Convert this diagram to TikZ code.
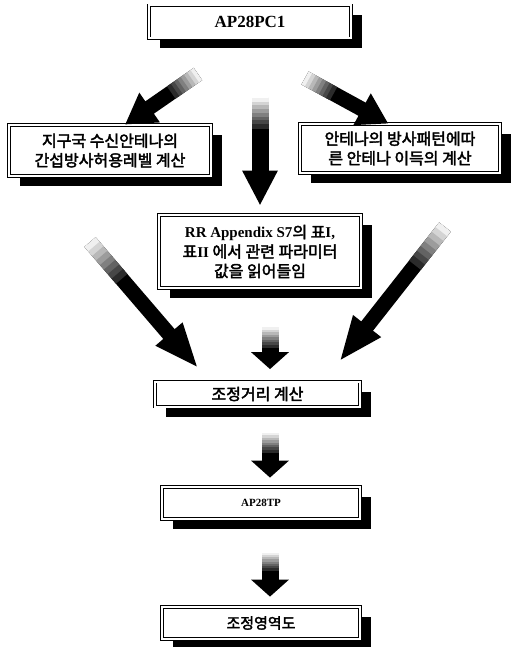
\documentclass[tikz,border=0pt]{standalone}
\usepackage{fontspec}
\setmainfont{Liberation Serif}
\newfontfamily\kr{Noto Sans CJK KR}[AutoFakeBold=2.5]
\usetikzlibrary{arrows.meta, positioning, calc, shadows}

\newcommand{\lt}[1]{{\rmfamily\bfseries #1}}
% gray tail laid over the start of an arrow
\newcommand{\fadetail}[4]{%
  \foreach \k in {0,...,7}{%
    \pgfmathsetmacro{\ka}{#4*\k/8}%
    \pgfmathsetmacro{\kb}{#4*(\k+1)/8+0.6}%
    \pgfmathtruncatemacro{\kc}{6+\k*11}%
    \draw[line width=#3, black!\kc] ($(#1)!\ka pt!(#2)$) -- ($(#1)!\kb pt!(#2)$);
  }}

\begin{document}
\begin{tikzpicture}[
  x=1pt, y=-1pt,
  box/.style={draw, double, double distance=2pt, line width=0.8pt, fill=white, align=center, inner sep=2pt,
    font=\kr\bfseries\fontsize{16}{19.5}\selectfont,
    drop shadow={shadow xshift=11pt, shadow yshift=-10pt, fill=black, opacity=1}},
  bigarr/.style={line width=15pt, -{Triangle[width=34pt,length=30pt]}},
  downarr/.style={line width=17pt, -{Triangle[width=33pt,length=35pt]}},
  longarr/.style={line width=15pt, -{Triangle[width=32pt,length=45pt]}},
  smallarr/.style={line width=17pt, -{Triangle[width=37pt,length=17pt]}}
]
\useasboundingbox (0,0) rectangle (513,647);

\node[box, minimum width=202pt, minimum height=33pt, font=\fontsize{17}{20}\selectfont] (pc1) at (250,22) {\lt{AP28PC1}};
\node[box, minimum width=202pt, minimum height=51pt] (left) at (110,150.5) {지구국 수신안테나의\\간섭방사허용레벨 계산};
\node[box, minimum width=200pt, minimum height=49pt] (right) at (400,148.5) {안테나의 방사패턴에따\\른 안테나 이득의 계산};
\node[box, minimum width=202pt, minimum height=73pt] (s7) at (260,251.5) {\lt{\fontsize{15}{19}\selectfont RR Appendix S7}의 표\lt{\fontsize{15}{19}\selectfont I,}\\표\lt{\fontsize{15}{19}\selectfont II} 에서 관련 파라미터\\값을 읽어들임};
\node[box, minimum width=205pt, minimum height=25pt] (calc) at (257.5,394) {조정거리 계산};
\node[box, minimum width=198pt, minimum height=32pt, font=\fontsize{11}{13}\selectfont] (tp) at (261,503) {\lt{AP28TP}};
\node[box, minimum width=198pt, minimum height=32pt, font=\kr\bfseries\fontsize{15}{18}\selectfont] (map) at (261,623) {조정영역도};

% tails of the arrows
\coordinate (t1) at (198,74);
\coordinate (t2) at (305,78);
\coordinate (t3) at (260,98);
\coordinate (t4) at (90,242);
\coordinate (t5) at (445,227);
\coordinate (t6) at (270,327);
\coordinate (t7) at (270,433);
\coordinate (t8) at (270,553);

% Arrows - upper part
\draw[bigarr] (t1) -- (left.60);
\fadetail{t1}{left.60}{15pt}{32}
\draw[bigarr] (t2) -- (right.115);
\fadetail{t2}{right.115}{15pt}{32}
\draw[downarr, shorten >=9pt] (t3) -- (s7.north);
\fadetail{t3}{s7.north}{17pt}{30}

% Arrows into calc
\draw[longarr, shorten >=17pt] (t4) -- (calc.165);
\fadetail{t4}{calc.165}{15pt}{48}
\draw[longarr, shorten >=25pt] (t5) -- (calc.11);
\fadetail{t5}{calc.11}{15pt}{48}
\draw[smallarr, shorten >=12pt] (t6) -- (t6 |- calc.north);
\fadetail{t6}{t6 |- calc.north}{17pt}{20}

% Arrows - lower part
\draw[smallarr, shorten >=9pt] (t7) -- (t7 |- tp.north);
\fadetail{t7}{t7 |- tp.north}{17pt}{19}
\draw[smallarr, shorten >=10pt] (t8) -- (t8 |- map.north);
\fadetail{t8}{t8 |- map.north}{17pt}{17}

\end{tikzpicture}
\end{document}
